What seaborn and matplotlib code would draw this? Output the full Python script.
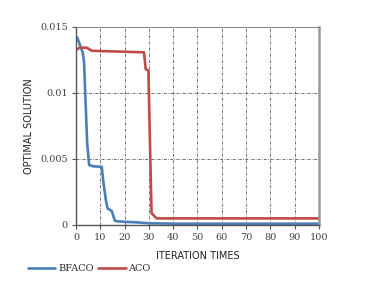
import matplotlib
matplotlib.use("Agg")
import matplotlib.pyplot as plt
import seaborn as sns
import pandas as pd

bfaco_x = [0.5, 2.7, 3.3, 4.6, 5.4, 7, 10.6, 11.3, 12.3, 13.0, 14.7, 16.0, 17, 20, 25, 30, 40, 100]
bfaco_y = [0.0142, 0.0131, 0.0124, 0.0062, 0.00455, 0.00445, 0.0044, 0.0032, 0.0019, 0.00126, 0.00106, 0.00033, 0.00028, 0.00024, 0.0002, 0.00013, 0.0001, 0.0001]
aco_x = [0, 1.5, 4.5, 6.5, 28, 28.7, 29.8, 30.4, 31.1, 33.2, 100]
aco_y = [0.01326, 0.01343, 0.01343, 0.0132, 0.01308, 0.0118, 0.01172, 0.0066, 0.0009, 0.0005, 0.0005]
series_names = ["BFACO", "ACO"]
x_ticks = list(range(0, 101, 10))
y_ticks = [0, 0.005, 0.01, 0.015]
y_tick_labels = ["0", "0.005", "0.01", "0.015"]

df = pd.concat([
    pd.DataFrame({"x": bfaco_x, "y": bfaco_y, "s": series_names[0]}),
    pd.DataFrame({"x": aco_x, "y": aco_y, "s": series_names[1]}),
], ignore_index=True)

sns.set_style("white")
fig = plt.figure(figsize=(3.7, 2.99), dpi=100)
ax = fig.add_axes([0.2054, 0.2475, 0.862 - 0.2054, 0.9097 - 0.2475])
sns.lineplot(data=df, x="x", y="y", hue="s", sort=False, estimator=None,
             palette=["#4a7ebb", "#be4b48"], linewidth=1.9, ax=ax, legend=True)

ax.set_xlim(0, 100)
ax.set_ylim(0, 0.015)
ax.set_xticks(x_ticks)
ax.set_yticks(y_ticks)
ax.set_yticklabels(y_tick_labels)
ax.set_xticklabels([str(t) for t in x_ticks])
for lab in ax.get_xticklabels() + ax.get_yticklabels():
    lab.set_family("DejaVu Serif")
    lab.set_fontsize(7)
    lab.set_color("#444444")
ax.tick_params(axis="both", direction="out", length=3, width=0.8, color="#555555", pad=3)
ax.tick_params(axis="x", bottom=True)
ax.tick_params(axis="y", left=True)

grid_style = dict(color="#333333", linewidth=0.5, linestyle=(0, (4, 2, 1, 2)))
for t in x_ticks[1:-1]:
    ax.axvline(t, zorder=0, **grid_style)
for t in y_ticks[1:-1]:
    ax.axhline(t, zorder=0, **grid_style)

for side in ["left", "bottom"]:
    ax.spines[side].set_color("#555555")
    ax.spines[side].set_linewidth(1.0)
ax.spines["top"].set_color("#888888")
ax.spines["top"].set_linewidth(0.8)
ax.spines["right"].set_color("#999999")
ax.spines["right"].set_linewidth(1.8)

ax.set_xlabel("ITERATION TIMES", fontsize=7, family="DejaVu Sans", color="#222222", labelpad=6)
ax.set_ylabel("OPTIMAL SOLUTION", fontsize=7, family="DejaVu Sans", color="#222222", labelpad=4)

handles, labels = ax.get_legend_handles_labels()
ax.legend(handles, labels, loc="center left", bbox_to_anchor=(-0.198, -0.222), ncol=2,
          frameon=False, prop={"family": "DejaVu Serif", "size": 7},
          handlelength=2.8, handletextpad=0.3, columnspacing=0.5, borderaxespad=0,
          borderpad=0)

fig.savefig("out.png", dpi=100)
